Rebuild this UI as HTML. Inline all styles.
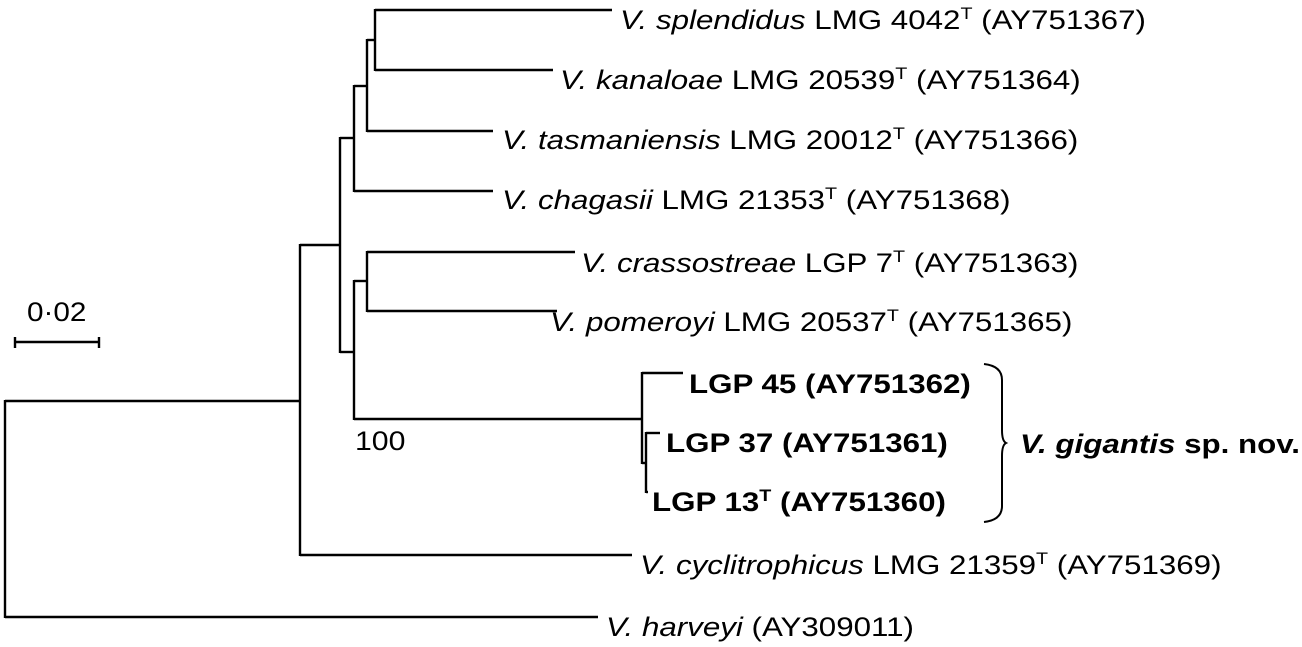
<!DOCTYPE html>
<html><head><meta charset="utf-8"><style>
html,body{margin:0;padding:0;background:#fff;}
svg{display:block;}
text{font-family:"Liberation Sans",Arial,sans-serif;font-size:27px;fill:#000;}
.i{font-style:italic}
.b{font-weight:bold}
</style></head><body>
<svg width="1302" height="647" viewBox="0 0 1302 647">
<g id="branches" stroke="#000" stroke-width="2.4" fill="none"></g>
<g id="labels">
<text transform="translate(620,29) scale(1.16,1)"><tspan class="i">V. splendidus</tspan> LMG 4042<tspan dy="-10" font-size="17">T</tspan><tspan dy="10"> (AY751367)</tspan></text>
<text transform="translate(560,89) scale(1.16,1)"><tspan class="i">V. kanaloae</tspan> LMG 20539<tspan dy="-10" font-size="17">T</tspan><tspan dy="10"> (AY751364)</tspan></text>
<text transform="translate(502,149) scale(1.16,1)"><tspan class="i">V. tasmaniensis</tspan> LMG 20012<tspan dy="-10" font-size="17">T</tspan><tspan dy="10"> (AY751366)</tspan></text>
<text transform="translate(502,209) scale(1.16,1)"><tspan class="i">V. chagasii</tspan> LMG 21353<tspan dy="-10" font-size="17">T</tspan><tspan dy="10"> (AY751368)</tspan></text>
<text transform="translate(581,272) scale(1.16,1)"><tspan class="i">V. crassostreae</tspan> LGP 7<tspan dy="-10" font-size="17">T</tspan><tspan dy="10"> (AY751363)</tspan></text>
<text transform="translate(550,331) scale(1.16,1)"><tspan class="i">V. pomeroyi</tspan> LMG 20537<tspan dy="-10" font-size="17">T</tspan><tspan dy="10"> (AY751365)</tspan></text>
<text transform="translate(689,393) scale(1.16,1)" class="b">LGP 45 (AY751362)</text>
<text transform="translate(666,452) scale(1.16,1)" class="b">LGP 37 (AY751361)</text>
<text transform="translate(652,511) scale(1.16,1)" class="b">LGP 13<tspan dy="-10" font-size="17">T</tspan><tspan dy="10"> (AY751360)</tspan></text>
<text transform="translate(640,574) scale(1.16,1)"><tspan class="i">V. cyclitrophicus</tspan> LMG 21359<tspan dy="-10" font-size="17">T</tspan><tspan dy="10"> (AY751369)</tspan></text>
<text transform="translate(606,636) scale(1.16,1)"><tspan class="i">V. harveyi</tspan> (AY309011)</text>
<text transform="translate(355,450) scale(1.12,1)" font-size="25">100</text>
<text transform="translate(1020,453) scale(1.16,1)" class="b"><tspan class="i">V. gigantis</tspan> sp. nov.</text>
<text transform="translate(27,321) scale(1.1,1)">0·02</text>
</g>
<path d="M15 342H99M15 337V348M99 337V348" stroke="#000" stroke-width="2.4" fill="none"/>
<path d="M984 364 Q1002 366 1002 380 V430 Q1002 441 1006 443 Q1002 445 1002 456 V506 Q1002 520 984 522" stroke="#000" stroke-width="2" fill="none"/>
</svg>
<script>
// branch segments: [x1,y1,x2,y2] in tree coordinates
const hSegs = [
 [375,10,612,10],[375,70,553,70],[367,40,375,40],[367,131,493,131],
 [354,86,367,86],[354,191,493,191],[340,138,354,138],
 [367,252,575,252],[367,311,557,311],[354,281,367,281],
 [340,352,354,352],[354,419,642,419],
 [642,373,683,373],[646,433,660,433],[646,492,648,492],[642,463,646,463],
 [300,245,340,245],[300,555,632,555],[5,401,300,401],[5,617,598,617]
];
const vSegs = [
 [375,10,70],[367,40,131],[354,86,191],[340,138,352],
 [367,252,311],[354,281,419],[642,373,463],[646,433,492],
 [300,245,555],[5,401,617]
];
const g = document.getElementById('branches');
hSegs.forEach(s=>{
 const l=document.createElementNS('http://www.w3.org/2000/svg','line');
 l.setAttribute('x1',s[0]);l.setAttribute('y1',s[1]);l.setAttribute('x2',s[2]);l.setAttribute('y2',s[3]);
 
 
 g.appendChild(l);
});
vSegs.forEach(s=>{
 const l=document.createElementNS('http://www.w3.org/2000/svg','line');
 l.setAttribute('x1',s[0]);l.setAttribute('y1',s[1]-1);l.setAttribute('x2',s[0]);l.setAttribute('y2',s[2]+1);
 
 
 g.appendChild(l);
});
</script>
</body></html>
